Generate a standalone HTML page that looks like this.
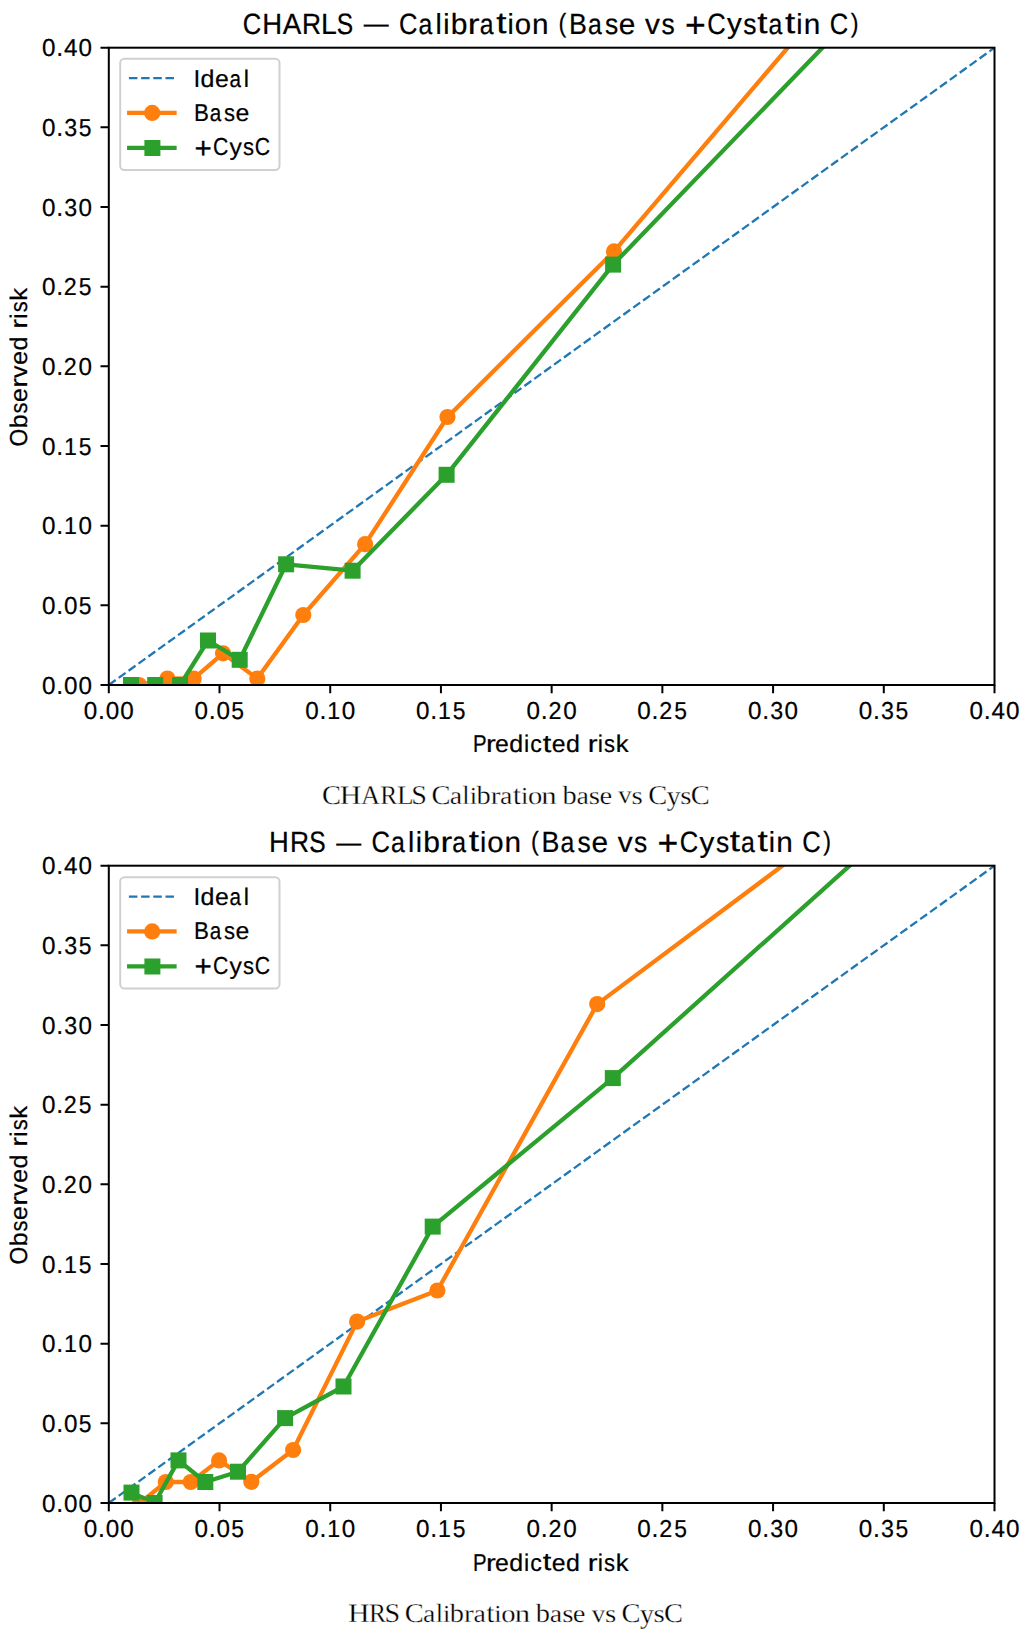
<!DOCTYPE html>
<html><head><meta charset="utf-8"><title>Calibration plots</title>
<style>html,body{margin:0;padding:0;background:#fff}svg{display:block}text{fill:#000;text-rendering:geometricPrecision}</style></head>
<body><svg width="1022" height="1631" viewBox="0 0 1022 1631">
<rect width="1022" height="1631" fill="#fff"/>
<defs><clipPath id="c0"><rect x="108.8" y="47.7" width="885.7" height="637.3"/></clipPath><clipPath id="d0"><rect x="108.8" y="47.7" width="885.7" height="634.9"/></clipPath><clipPath id="c1"><rect x="108.8" y="865.7" width="885.7" height="637.3"/></clipPath><clipPath id="d1"><rect x="108.8" y="865.7" width="885.7" height="634.9"/></clipPath></defs>
<g clip-path="url(#c0)">
<line x1="108.8" y1="685.0" x2="994.5" y2="47.7" stroke="#1f77b4" stroke-width="2.3" stroke-dasharray="8.51 3.68"/>
<polyline clip-path="url(#d0)" points="139.0,685.0 167.4,678.5 193.7,678.6 223.0,653.3 257.3,678.6 303.3,615.0 365.1,544.2 447.5,417.0 614.0,251.4 807.2,24.9" fill="none" stroke="#ff7f0e" stroke-width="4.3" stroke-linejoin="round"/>
<circle cx="139.0" cy="685.0" r="8.10" fill="#ff7f0e"/>
<circle cx="167.4" cy="678.5" r="8.10" fill="#ff7f0e"/>
<circle cx="193.7" cy="678.6" r="8.10" fill="#ff7f0e"/>
<circle cx="223.0" cy="653.3" r="8.10" fill="#ff7f0e"/>
<circle cx="257.3" cy="678.6" r="8.10" fill="#ff7f0e"/>
<circle cx="303.3" cy="615.0" r="8.10" fill="#ff7f0e"/>
<circle cx="365.1" cy="544.2" r="8.10" fill="#ff7f0e"/>
<circle cx="447.5" cy="417.0" r="8.10" fill="#ff7f0e"/>
<circle cx="614.0" cy="251.4" r="8.10" fill="#ff7f0e"/>
<polyline clip-path="url(#d0)" points="131.0,685.0 155.2,685.0 180.1,685.0 208.0,640.5 239.7,659.8 286.1,564.3 352.6,570.7 446.6,474.8 613.1,264.6 843.3,26.1" fill="none" stroke="#2ca02c" stroke-width="4.3" stroke-linejoin="round"/>
<rect x="123.00" y="677.00" width="16.0" height="16.0" fill="#2ca02c"/>
<rect x="147.20" y="677.00" width="16.0" height="16.0" fill="#2ca02c"/>
<rect x="172.10" y="677.00" width="16.0" height="16.0" fill="#2ca02c"/>
<rect x="200.00" y="632.50" width="16.0" height="16.0" fill="#2ca02c"/>
<rect x="231.70" y="651.80" width="16.0" height="16.0" fill="#2ca02c"/>
<rect x="278.10" y="556.30" width="16.0" height="16.0" fill="#2ca02c"/>
<rect x="344.60" y="562.70" width="16.0" height="16.0" fill="#2ca02c"/>
<rect x="438.60" y="466.80" width="16.0" height="16.0" fill="#2ca02c"/>
<rect x="605.10" y="256.60" width="16.0" height="16.0" fill="#2ca02c"/>
</g>
<rect x="108.8" y="47.7" width="885.7" height="637.3" fill="none" stroke="#000" stroke-width="2.0"/>
<path d="M108.80 685.0v8.3M108.8 685.00h-8.3M219.51 685.0v8.3M108.8 605.34h-8.3M330.23 685.0v8.3M108.8 525.67h-8.3M440.94 685.0v8.3M108.8 446.01h-8.3M551.65 685.0v8.3M108.8 366.35h-8.3M662.36 685.0v8.3M108.8 286.69h-8.3M773.08 685.0v8.3M108.8 207.02h-8.3M883.79 685.0v8.3M108.8 127.36h-8.3M994.50 685.0v8.3M108.8 47.70h-8.3" stroke="#000" stroke-width="2.0"/>
<rect x="120.2" y="58.8" width="159.3" height="111.2" rx="4.3" fill="#fff" fill-opacity="0.8" stroke="#d0d0d0" stroke-width="2"/>
<line x1="128.9" y1="78.2" x2="174.5" y2="78.2" stroke="#1f77b4" stroke-width="2.3" stroke-dasharray="8.51 3.68"/>
<line x1="129.2" y1="112.95" x2="174.5" y2="112.95" stroke="#ff7f0e" stroke-width="4.3" stroke-linecap="square"/>
<circle cx="152.2" cy="112.95" r="8.10" fill="#ff7f0e"/>
<line x1="129.2" y1="147.8" x2="174.5" y2="147.8" stroke="#2ca02c" stroke-width="4.3" stroke-linecap="square"/>
<rect x="144.40" y="140.00" width="16.0" height="16.0" fill="#2ca02c"/>
<g clip-path="url(#c1)">
<line x1="108.8" y1="1503.0" x2="994.5" y2="865.7" stroke="#1f77b4" stroke-width="2.3" stroke-dasharray="8.51 3.68"/>
<polyline clip-path="url(#d1)" points="140.0,1503.0 165.8,1482.0 190.8,1482.0 219.1,1460.4 251.3,1481.8 293.1,1450.0 357.1,1321.6 437.4,1290.5 597.2,1004.1 806.5,847.7" fill="none" stroke="#ff7f0e" stroke-width="4.3" stroke-linejoin="round"/>
<circle cx="140.0" cy="1503.0" r="8.10" fill="#ff7f0e"/>
<circle cx="165.8" cy="1482.0" r="8.10" fill="#ff7f0e"/>
<circle cx="190.8" cy="1482.0" r="8.10" fill="#ff7f0e"/>
<circle cx="219.1" cy="1460.4" r="8.10" fill="#ff7f0e"/>
<circle cx="251.3" cy="1481.8" r="8.10" fill="#ff7f0e"/>
<circle cx="293.1" cy="1450.0" r="8.10" fill="#ff7f0e"/>
<circle cx="357.1" cy="1321.6" r="8.10" fill="#ff7f0e"/>
<circle cx="437.4" cy="1290.5" r="8.10" fill="#ff7f0e"/>
<circle cx="597.2" cy="1004.1" r="8.10" fill="#ff7f0e"/>
<polyline clip-path="url(#d1)" points="131.5,1492.6 154.6,1503.0 178.5,1460.4 205.3,1482.0 238.0,1471.7 285.1,1418.1 343.5,1386.5 432.7,1226.6 612.8,1078.1 871.9,845.7" fill="none" stroke="#2ca02c" stroke-width="4.3" stroke-linejoin="round"/>
<rect x="123.50" y="1484.60" width="16.0" height="16.0" fill="#2ca02c"/>
<rect x="146.60" y="1495.00" width="16.0" height="16.0" fill="#2ca02c"/>
<rect x="170.50" y="1452.40" width="16.0" height="16.0" fill="#2ca02c"/>
<rect x="197.30" y="1474.00" width="16.0" height="16.0" fill="#2ca02c"/>
<rect x="230.00" y="1463.70" width="16.0" height="16.0" fill="#2ca02c"/>
<rect x="277.10" y="1410.10" width="16.0" height="16.0" fill="#2ca02c"/>
<rect x="335.50" y="1378.50" width="16.0" height="16.0" fill="#2ca02c"/>
<rect x="424.70" y="1218.60" width="16.0" height="16.0" fill="#2ca02c"/>
<rect x="604.80" y="1070.10" width="16.0" height="16.0" fill="#2ca02c"/>
</g>
<rect x="108.8" y="865.7" width="885.7" height="637.3" fill="none" stroke="#000" stroke-width="2.0"/>
<path d="M108.80 1503.0v8.3M108.8 1503.00h-8.3M219.51 1503.0v8.3M108.8 1423.34h-8.3M330.23 1503.0v8.3M108.8 1343.67h-8.3M440.94 1503.0v8.3M108.8 1264.01h-8.3M551.65 1503.0v8.3M108.8 1184.35h-8.3M662.36 1503.0v8.3M108.8 1104.69h-8.3M773.08 1503.0v8.3M108.8 1025.03h-8.3M883.79 1503.0v8.3M108.8 945.36h-8.3M994.50 1503.0v8.3M108.8 865.70h-8.3" stroke="#000" stroke-width="2.0"/>
<rect x="120.2" y="877.3" width="159.3" height="111.2" rx="4.3" fill="#fff" fill-opacity="0.8" stroke="#d0d0d0" stroke-width="2"/>
<line x1="128.9" y1="896.7" x2="174.5" y2="896.7" stroke="#1f77b4" stroke-width="2.3" stroke-dasharray="8.51 3.68"/>
<line x1="129.2" y1="931.45" x2="174.5" y2="931.45" stroke="#ff7f0e" stroke-width="4.3" stroke-linecap="square"/>
<circle cx="152.2" cy="931.45" r="8.10" fill="#ff7f0e"/>
<line x1="129.2" y1="966.3" x2="174.5" y2="966.3" stroke="#2ca02c" stroke-width="4.3" stroke-linecap="square"/>
<rect x="144.40" y="958.50" width="16.0" height="16.0" fill="#2ca02c"/>
<g font-family="Liberation Sans" font-size="24.37" stroke="#000" stroke-width="0.22" aria-label="0.00"><text transform="matrix(0.9948,0,0,1.0082,83.76,719.09)">0</text><text transform="matrix(1.0212,0,0,1.0946,98.01,719.00)">.</text><text transform="matrix(0.9948,0,0,1.0082,105.71,719.09)">0</text><text transform="matrix(0.9948,0,0,1.0082,120.34,719.09)">0</text></g>
<g font-family="Liberation Sans" font-size="24.37" stroke="#000" stroke-width="0.22" aria-label="0.00"><text transform="matrix(0.9948,0,0,1.0082,41.96,693.79)">0</text><text transform="matrix(1.0212,0,0,1.0946,56.21,693.70)">.</text><text transform="matrix(0.9948,0,0,1.0082,63.90,693.79)">0</text><text transform="matrix(0.9948,0,0,1.0082,78.54,693.79)">0</text></g>
<g font-family="Liberation Sans" font-size="24.37" stroke="#000" stroke-width="0.22" aria-label="0.05"><text transform="matrix(0.9948,0,0,1.0082,194.48,719.09)">0</text><text transform="matrix(1.0212,0,0,1.0946,208.73,719.00)">.</text><text transform="matrix(0.9948,0,0,1.0082,216.42,719.09)">0</text><text transform="matrix(0.9389,0,0,1.0052,231.34,719.09)">5</text></g>
<g font-family="Liberation Sans" font-size="24.37" stroke="#000" stroke-width="0.22" aria-label="0.05"><text transform="matrix(0.9948,0,0,1.0082,41.96,614.12)">0</text><text transform="matrix(1.0212,0,0,1.0946,56.21,614.04)">.</text><text transform="matrix(0.9948,0,0,1.0082,63.90,614.12)">0</text><text transform="matrix(0.9389,0,0,1.0052,78.82,614.12)">5</text></g>
<g font-family="Liberation Sans" font-size="24.37" stroke="#000" stroke-width="0.22" aria-label="0.10"><text transform="matrix(0.9948,0,0,1.0082,305.19,719.09)">0</text><text transform="matrix(1.0212,0,0,1.0946,319.44,719.00)">.</text><text transform="matrix(0.9502,0,0,1.0000,327.33,719.00)">1</text><text transform="matrix(0.9948,0,0,1.0082,341.77,719.09)">0</text></g>
<g font-family="Liberation Sans" font-size="24.37" stroke="#000" stroke-width="0.22" aria-label="0.10"><text transform="matrix(0.9948,0,0,1.0082,41.96,534.46)">0</text><text transform="matrix(1.0212,0,0,1.0946,56.21,534.38)">.</text><text transform="matrix(0.9502,0,0,1.0000,64.10,534.38)">1</text><text transform="matrix(0.9948,0,0,1.0082,78.54,534.46)">0</text></g>
<g font-family="Liberation Sans" font-size="24.37" stroke="#000" stroke-width="0.22" aria-label="0.15"><text transform="matrix(0.9948,0,0,1.0082,415.90,719.09)">0</text><text transform="matrix(1.0212,0,0,1.0946,430.15,719.00)">.</text><text transform="matrix(0.9502,0,0,1.0000,438.04,719.00)">1</text><text transform="matrix(0.9389,0,0,1.0052,452.77,719.09)">5</text></g>
<g font-family="Liberation Sans" font-size="24.37" stroke="#000" stroke-width="0.22" aria-label="0.15"><text transform="matrix(0.9948,0,0,1.0082,41.96,454.80)">0</text><text transform="matrix(1.0212,0,0,1.0946,56.21,454.71)">.</text><text transform="matrix(0.9502,0,0,1.0000,64.10,454.71)">1</text><text transform="matrix(0.9389,0,0,1.0052,78.82,454.80)">5</text></g>
<g font-family="Liberation Sans" font-size="24.37" stroke="#000" stroke-width="0.22" aria-label="0.20"><text transform="matrix(0.9948,0,0,1.0082,526.61,719.09)">0</text><text transform="matrix(1.0212,0,0,1.0946,540.86,719.00)">.</text><text transform="matrix(0.9589,0,0,1.0031,548.50,719.00)">2</text><text transform="matrix(0.9948,0,0,1.0082,563.19,719.09)">0</text></g>
<g font-family="Liberation Sans" font-size="24.37" stroke="#000" stroke-width="0.22" aria-label="0.20"><text transform="matrix(0.9948,0,0,1.0082,41.96,375.14)">0</text><text transform="matrix(1.0212,0,0,1.0946,56.21,375.05)">.</text><text transform="matrix(0.9589,0,0,1.0031,63.84,375.05)">2</text><text transform="matrix(0.9948,0,0,1.0082,78.54,375.14)">0</text></g>
<g font-family="Liberation Sans" font-size="24.37" stroke="#000" stroke-width="0.22" aria-label="0.25"><text transform="matrix(0.9948,0,0,1.0082,637.33,719.09)">0</text><text transform="matrix(1.0212,0,0,1.0946,651.58,719.00)">.</text><text transform="matrix(0.9589,0,0,1.0031,659.21,719.00)">2</text><text transform="matrix(0.9389,0,0,1.0052,674.19,719.09)">5</text></g>
<g font-family="Liberation Sans" font-size="24.37" stroke="#000" stroke-width="0.22" aria-label="0.25"><text transform="matrix(0.9948,0,0,1.0082,41.96,295.47)">0</text><text transform="matrix(1.0212,0,0,1.0946,56.21,295.39)">.</text><text transform="matrix(0.9589,0,0,1.0031,63.84,295.39)">2</text><text transform="matrix(0.9389,0,0,1.0052,78.82,295.47)">5</text></g>
<g font-family="Liberation Sans" font-size="24.37" stroke="#000" stroke-width="0.22" aria-label="0.30"><text transform="matrix(0.9948,0,0,1.0082,748.04,719.09)">0</text><text transform="matrix(1.0212,0,0,1.0946,762.29,719.00)">.</text><text transform="matrix(0.9554,0,0,1.0082,770.28,719.09)">3</text><text transform="matrix(0.9948,0,0,1.0082,784.62,719.09)">0</text></g>
<g font-family="Liberation Sans" font-size="24.37" stroke="#000" stroke-width="0.22" aria-label="0.30"><text transform="matrix(0.9948,0,0,1.0082,41.96,215.81)">0</text><text transform="matrix(1.0212,0,0,1.0946,56.21,215.72)">.</text><text transform="matrix(0.9554,0,0,1.0082,64.20,215.81)">3</text><text transform="matrix(0.9948,0,0,1.0082,78.54,215.81)">0</text></g>
<g font-family="Liberation Sans" font-size="24.37" stroke="#000" stroke-width="0.22" aria-label="0.35"><text transform="matrix(0.9948,0,0,1.0082,858.75,719.09)">0</text><text transform="matrix(1.0212,0,0,1.0946,873.00,719.00)">.</text><text transform="matrix(0.9554,0,0,1.0082,880.99,719.09)">3</text><text transform="matrix(0.9389,0,0,1.0052,895.62,719.09)">5</text></g>
<g font-family="Liberation Sans" font-size="24.37" stroke="#000" stroke-width="0.22" aria-label="0.35"><text transform="matrix(0.9948,0,0,1.0082,41.96,136.15)">0</text><text transform="matrix(1.0212,0,0,1.0946,56.21,136.06)">.</text><text transform="matrix(0.9554,0,0,1.0082,64.20,136.15)">3</text><text transform="matrix(0.9389,0,0,1.0052,78.82,136.15)">5</text></g>
<g font-family="Liberation Sans" font-size="24.37" stroke="#000" stroke-width="0.22" aria-label="0.40"><text transform="matrix(0.9948,0,0,1.0082,969.46,719.09)">0</text><text transform="matrix(1.0212,0,0,1.0946,983.71,719.00)">.</text><text transform="matrix(0.9949,0,0,1.0000,991.41,719.00)">4</text><text transform="matrix(0.9948,0,0,1.0082,1006.04,719.09)">0</text></g>
<g font-family="Liberation Sans" font-size="24.37" stroke="#000" stroke-width="0.22" aria-label="0.40"><text transform="matrix(0.9948,0,0,1.0082,41.96,56.49)">0</text><text transform="matrix(1.0212,0,0,1.0946,56.21,56.40)">.</text><text transform="matrix(0.9949,0,0,1.0000,63.90,56.40)">4</text><text transform="matrix(0.9948,0,0,1.0082,78.54,56.49)">0</text></g>
<g font-family="Liberation Sans" font-size="24.37" stroke="#000" stroke-width="0.22" aria-label="0.00"><text transform="matrix(0.9948,0,0,1.0082,83.76,1537.09)">0</text><text transform="matrix(1.0212,0,0,1.0946,98.01,1537.00)">.</text><text transform="matrix(0.9948,0,0,1.0082,105.71,1537.09)">0</text><text transform="matrix(0.9948,0,0,1.0082,120.34,1537.09)">0</text></g>
<g font-family="Liberation Sans" font-size="24.37" stroke="#000" stroke-width="0.22" aria-label="0.00"><text transform="matrix(0.9948,0,0,1.0082,41.96,1511.79)">0</text><text transform="matrix(1.0212,0,0,1.0946,56.21,1511.70)">.</text><text transform="matrix(0.9948,0,0,1.0082,63.90,1511.79)">0</text><text transform="matrix(0.9948,0,0,1.0082,78.54,1511.79)">0</text></g>
<g font-family="Liberation Sans" font-size="24.37" stroke="#000" stroke-width="0.22" aria-label="0.05"><text transform="matrix(0.9948,0,0,1.0082,194.48,1537.09)">0</text><text transform="matrix(1.0212,0,0,1.0946,208.73,1537.00)">.</text><text transform="matrix(0.9948,0,0,1.0082,216.42,1537.09)">0</text><text transform="matrix(0.9389,0,0,1.0052,231.34,1537.09)">5</text></g>
<g font-family="Liberation Sans" font-size="24.37" stroke="#000" stroke-width="0.22" aria-label="0.05"><text transform="matrix(0.9948,0,0,1.0082,41.96,1432.12)">0</text><text transform="matrix(1.0212,0,0,1.0946,56.21,1432.04)">.</text><text transform="matrix(0.9948,0,0,1.0082,63.90,1432.12)">0</text><text transform="matrix(0.9389,0,0,1.0052,78.82,1432.12)">5</text></g>
<g font-family="Liberation Sans" font-size="24.37" stroke="#000" stroke-width="0.22" aria-label="0.10"><text transform="matrix(0.9948,0,0,1.0082,305.19,1537.09)">0</text><text transform="matrix(1.0212,0,0,1.0946,319.44,1537.00)">.</text><text transform="matrix(0.9502,0,0,1.0000,327.33,1537.00)">1</text><text transform="matrix(0.9948,0,0,1.0082,341.77,1537.09)">0</text></g>
<g font-family="Liberation Sans" font-size="24.37" stroke="#000" stroke-width="0.22" aria-label="0.10"><text transform="matrix(0.9948,0,0,1.0082,41.96,1352.46)">0</text><text transform="matrix(1.0212,0,0,1.0946,56.21,1352.38)">.</text><text transform="matrix(0.9502,0,0,1.0000,64.10,1352.38)">1</text><text transform="matrix(0.9948,0,0,1.0082,78.54,1352.46)">0</text></g>
<g font-family="Liberation Sans" font-size="24.37" stroke="#000" stroke-width="0.22" aria-label="0.15"><text transform="matrix(0.9948,0,0,1.0082,415.90,1537.09)">0</text><text transform="matrix(1.0212,0,0,1.0946,430.15,1537.00)">.</text><text transform="matrix(0.9502,0,0,1.0000,438.04,1537.00)">1</text><text transform="matrix(0.9389,0,0,1.0052,452.77,1537.09)">5</text></g>
<g font-family="Liberation Sans" font-size="24.37" stroke="#000" stroke-width="0.22" aria-label="0.15"><text transform="matrix(0.9948,0,0,1.0082,41.96,1272.80)">0</text><text transform="matrix(1.0212,0,0,1.0946,56.21,1272.71)">.</text><text transform="matrix(0.9502,0,0,1.0000,64.10,1272.71)">1</text><text transform="matrix(0.9389,0,0,1.0052,78.82,1272.80)">5</text></g>
<g font-family="Liberation Sans" font-size="24.37" stroke="#000" stroke-width="0.22" aria-label="0.20"><text transform="matrix(0.9948,0,0,1.0082,526.61,1537.09)">0</text><text transform="matrix(1.0212,0,0,1.0946,540.86,1537.00)">.</text><text transform="matrix(0.9589,0,0,1.0031,548.50,1537.00)">2</text><text transform="matrix(0.9948,0,0,1.0082,563.19,1537.09)">0</text></g>
<g font-family="Liberation Sans" font-size="24.37" stroke="#000" stroke-width="0.22" aria-label="0.20"><text transform="matrix(0.9948,0,0,1.0082,41.96,1193.14)">0</text><text transform="matrix(1.0212,0,0,1.0946,56.21,1193.05)">.</text><text transform="matrix(0.9589,0,0,1.0031,63.84,1193.05)">2</text><text transform="matrix(0.9948,0,0,1.0082,78.54,1193.14)">0</text></g>
<g font-family="Liberation Sans" font-size="24.37" stroke="#000" stroke-width="0.22" aria-label="0.25"><text transform="matrix(0.9948,0,0,1.0082,637.33,1537.09)">0</text><text transform="matrix(1.0212,0,0,1.0946,651.58,1537.00)">.</text><text transform="matrix(0.9589,0,0,1.0031,659.21,1537.00)">2</text><text transform="matrix(0.9389,0,0,1.0052,674.19,1537.09)">5</text></g>
<g font-family="Liberation Sans" font-size="24.37" stroke="#000" stroke-width="0.22" aria-label="0.25"><text transform="matrix(0.9948,0,0,1.0082,41.96,1113.47)">0</text><text transform="matrix(1.0212,0,0,1.0946,56.21,1113.39)">.</text><text transform="matrix(0.9589,0,0,1.0031,63.84,1113.39)">2</text><text transform="matrix(0.9389,0,0,1.0052,78.82,1113.47)">5</text></g>
<g font-family="Liberation Sans" font-size="24.37" stroke="#000" stroke-width="0.22" aria-label="0.30"><text transform="matrix(0.9948,0,0,1.0082,748.04,1537.09)">0</text><text transform="matrix(1.0212,0,0,1.0946,762.29,1537.00)">.</text><text transform="matrix(0.9554,0,0,1.0082,770.28,1537.09)">3</text><text transform="matrix(0.9948,0,0,1.0082,784.62,1537.09)">0</text></g>
<g font-family="Liberation Sans" font-size="24.37" stroke="#000" stroke-width="0.22" aria-label="0.30"><text transform="matrix(0.9948,0,0,1.0082,41.96,1033.81)">0</text><text transform="matrix(1.0212,0,0,1.0946,56.21,1033.73)">.</text><text transform="matrix(0.9554,0,0,1.0082,64.20,1033.81)">3</text><text transform="matrix(0.9948,0,0,1.0082,78.54,1033.81)">0</text></g>
<g font-family="Liberation Sans" font-size="24.37" stroke="#000" stroke-width="0.22" aria-label="0.35"><text transform="matrix(0.9948,0,0,1.0082,858.75,1537.09)">0</text><text transform="matrix(1.0212,0,0,1.0946,873.00,1537.00)">.</text><text transform="matrix(0.9554,0,0,1.0082,880.99,1537.09)">3</text><text transform="matrix(0.9389,0,0,1.0052,895.62,1537.09)">5</text></g>
<g font-family="Liberation Sans" font-size="24.37" stroke="#000" stroke-width="0.22" aria-label="0.35"><text transform="matrix(0.9948,0,0,1.0082,41.96,954.15)">0</text><text transform="matrix(1.0212,0,0,1.0946,56.21,954.06)">.</text><text transform="matrix(0.9554,0,0,1.0082,64.20,954.15)">3</text><text transform="matrix(0.9389,0,0,1.0052,78.82,954.15)">5</text></g>
<g font-family="Liberation Sans" font-size="24.37" stroke="#000" stroke-width="0.22" aria-label="0.40"><text transform="matrix(0.9948,0,0,1.0082,969.46,1537.09)">0</text><text transform="matrix(1.0212,0,0,1.0946,983.71,1537.00)">.</text><text transform="matrix(0.9949,0,0,1.0000,991.41,1537.00)">4</text><text transform="matrix(0.9948,0,0,1.0082,1006.04,1537.09)">0</text></g>
<g font-family="Liberation Sans" font-size="24.37" stroke="#000" stroke-width="0.22" aria-label="0.40"><text transform="matrix(0.9948,0,0,1.0082,41.96,874.49)">0</text><text transform="matrix(1.0212,0,0,1.0946,56.21,874.40)">.</text><text transform="matrix(0.9949,0,0,1.0000,63.90,874.40)">4</text><text transform="matrix(0.9948,0,0,1.0082,78.54,874.49)">0</text></g>
<g font-family="Liberation Sans" font-size="29.25" stroke="#000" stroke-width="0.22" aria-label="CHARLS — Calibration (Base vs +Cystatin C)"><text transform="matrix(0.8761,0,0,1.0082,242.80,33.70)">C</text><text transform="matrix(0.9388,0,0,1.0000,262.28,33.60)">H</text><text transform="matrix(0.9507,0,0,1.0000,282.74,33.60)">A</text><text transform="matrix(0.9026,0,0,1.0000,302.00,33.60)">R</text><text transform="matrix(0.9709,0,0,1.0000,321.01,33.60)">L</text><text transform="matrix(0.8413,0,0,1.0082,336.71,33.70)">S</text><text transform="matrix(0.8516,0,0,0.9920,363.65,33.40)">—</text><text transform="matrix(0.8761,0,0,1.0082,398.92,33.70)">C</text><text transform="matrix(0.8486,0,0,0.9892,418.55,33.71)">a</text><text transform="matrix(0.9647,0,0,0.9895,435.56,33.60)">l</text><text transform="matrix(0.9647,0,0,0.9895,443.24,33.60)">i</text><text transform="matrix(1.0267,0,0,0.9946,450.77,33.71)">b</text><text transform="matrix(1.2092,0,0,0.9823,467.87,33.60)">r</text><text transform="matrix(0.8486,0,0,0.9892,479.67,33.71)">a</text><text transform="matrix(1.2613,0,0,1.0128,496.16,33.37)">t</text><text transform="matrix(0.9647,0,0,0.9895,507.51,33.60)">i</text><text transform="matrix(1.0033,0,0,0.9892,514.76,33.71)">o</text><text transform="matrix(1.0175,0,0,0.9823,531.88,33.60)">n</text><text transform="matrix(0.7977,0,0,0.9022,558.54,31.78)">(</text><text transform="matrix(0.9169,0,0,1.0000,568.90,33.60)">B</text><text transform="matrix(0.8486,0,0,0.9892,587.92,33.71)">a</text><text transform="matrix(0.9046,0,0,0.9918,604.99,33.71)">s</text><text transform="matrix(1.0194,0,0,0.9892,618.87,33.71)">e</text><text transform="matrix(1.0185,0,0,0.9769,645.09,33.60)">v</text><text transform="matrix(0.9046,0,0,0.9918,661.46,33.71)">s</text><text transform="matrix(1.2160,0,0,1.2093,685.04,36.71)">+</text><text transform="matrix(0.8761,0,0,1.0082,707.23,33.70)">C</text><text transform="matrix(1.0135,0,0,0.9682,727.00,33.47)">y</text><text transform="matrix(0.9046,0,0,0.9918,743.34,33.71)">s</text><text transform="matrix(1.2613,0,0,1.0128,757.15,33.37)">t</text><text transform="matrix(0.8486,0,0,0.9892,768.39,33.71)">a</text><text transform="matrix(1.2613,0,0,1.0128,784.88,33.37)">t</text><text transform="matrix(0.9647,0,0,0.9895,796.23,33.60)">i</text><text transform="matrix(1.0175,0,0,0.9823,803.72,33.60)">n</text><text transform="matrix(0.8761,0,0,1.0082,829.70,33.70)">C</text><text transform="matrix(0.7977,0,0,0.9022,850.80,31.78)">)</text></g>
<g font-family="Liberation Sans" font-size="29.25" stroke="#000" stroke-width="0.22" aria-label="HRS — Calibration (Base vs +Cystatin C)"><text transform="matrix(0.9388,0,0,1.0000,269.10,851.70)">H</text><text transform="matrix(0.9026,0,0,1.0000,289.94,851.70)">R</text><text transform="matrix(0.8413,0,0,1.0082,309.27,851.80)">S</text><text transform="matrix(0.8516,0,0,0.9920,336.21,851.50)">—</text><text transform="matrix(0.8761,0,0,1.0082,371.49,851.80)">C</text><text transform="matrix(0.8486,0,0,0.9892,391.11,851.81)">a</text><text transform="matrix(0.9647,0,0,0.9895,408.12,851.70)">l</text><text transform="matrix(0.9647,0,0,0.9895,415.80,851.70)">i</text><text transform="matrix(1.0267,0,0,0.9946,423.33,851.81)">b</text><text transform="matrix(1.2092,0,0,0.9823,440.44,851.70)">r</text><text transform="matrix(0.8486,0,0,0.9892,452.23,851.81)">a</text><text transform="matrix(1.2613,0,0,1.0128,468.72,851.47)">t</text><text transform="matrix(0.9647,0,0,0.9895,480.07,851.70)">i</text><text transform="matrix(1.0033,0,0,0.9892,487.32,851.81)">o</text><text transform="matrix(1.0175,0,0,0.9823,504.45,851.70)">n</text><text transform="matrix(0.7977,0,0,0.9022,531.11,849.88)">(</text><text transform="matrix(0.9169,0,0,1.0000,541.46,851.70)">B</text><text transform="matrix(0.8486,0,0,0.9892,560.49,851.81)">a</text><text transform="matrix(0.9046,0,0,0.9918,577.56,851.81)">s</text><text transform="matrix(1.0194,0,0,0.9892,591.43,851.81)">e</text><text transform="matrix(1.0185,0,0,0.9769,617.65,851.70)">v</text><text transform="matrix(0.9046,0,0,0.9918,634.02,851.81)">s</text><text transform="matrix(1.2160,0,0,1.2093,657.60,854.81)">+</text><text transform="matrix(0.8761,0,0,1.0082,679.79,851.80)">C</text><text transform="matrix(1.0135,0,0,0.9682,699.56,851.57)">y</text><text transform="matrix(0.9046,0,0,0.9918,715.91,851.81)">s</text><text transform="matrix(1.2613,0,0,1.0128,729.71,851.47)">t</text><text transform="matrix(0.8486,0,0,0.9892,740.95,851.81)">a</text><text transform="matrix(1.2613,0,0,1.0128,757.44,851.47)">t</text><text transform="matrix(0.9647,0,0,0.9895,768.80,851.70)">i</text><text transform="matrix(1.0175,0,0,0.9823,776.28,851.70)">n</text><text transform="matrix(0.8761,0,0,1.0082,802.27,851.80)">C</text><text transform="matrix(0.7977,0,0,0.9022,823.36,849.88)">)</text></g>
<g font-family="Liberation Sans" font-size="24.37" stroke="#000" stroke-width="0.22" aria-label="Predicted risk"><text transform="matrix(0.8346,0,0,1.0000,472.95,751.90)">P</text><text transform="matrix(1.2092,0,0,0.9823,485.96,751.90)">r</text><text transform="matrix(1.0194,0,0,0.9892,494.99,751.99)">e</text><text transform="matrix(1.0257,0,0,0.9946,509.15,751.99)">d</text><text transform="matrix(0.9647,0,0,0.9895,524.12,751.90)">i</text><text transform="matrix(0.9469,0,0,0.9892,530.21,751.99)">c</text><text transform="matrix(1.2613,0,0,1.0128,542.71,751.71)">t</text><text transform="matrix(1.0194,0,0,0.9892,551.79,751.99)">e</text><text transform="matrix(1.0257,0,0,0.9946,565.95,751.99)">d</text><text transform="matrix(1.2092,0,0,0.9823,587.77,751.90)">r</text><text transform="matrix(0.9647,0,0,0.9895,597.69,751.90)">i</text><text transform="matrix(0.9046,0,0,0.9918,604.12,751.99)">s</text><text transform="matrix(1.0552,0,0,0.9895,615.83,751.90)">k</text></g>
<g font-family="Liberation Sans" font-size="24.37" stroke="#000" stroke-width="0.22" aria-label="Observed risk" transform="translate(26.50,366.65) rotate(-90)"><text transform="matrix(0.9329,0,0,1.0082,-79.95,0.09)">O</text><text transform="matrix(1.0267,0,0,0.9946,-61.59,0.09)">b</text><text transform="matrix(0.9046,0,0,0.9918,-46.83,0.09)">s</text><text transform="matrix(1.0194,0,0,0.9892,-35.27,0.09)">e</text><text transform="matrix(1.2092,0,0,0.9823,-21.20,0.00)">r</text><text transform="matrix(1.0185,0,0,0.9769,-11.28,0.00)">v</text><text transform="matrix(1.0194,0,0,0.9892,1.95,0.09)">e</text><text transform="matrix(1.0257,0,0,0.9946,16.10,0.09)">d</text><text transform="matrix(1.2092,0,0,0.9823,37.93,0.00)">r</text><text transform="matrix(0.9647,0,0,0.9895,47.85,0.00)">i</text><text transform="matrix(0.9046,0,0,0.9918,54.28,0.09)">s</text><text transform="matrix(1.0552,0,0,0.9895,65.98,0.00)">k</text></g>
<g font-family="Liberation Sans" font-size="24.37" stroke="#000" stroke-width="0.22" aria-label="Ideal"><text transform="matrix(0.9981,0,0,1.0000,193.51,86.50)">I</text><text transform="matrix(1.0257,0,0,0.9946,200.50,86.59)">d</text><text transform="matrix(1.0194,0,0,0.9892,215.10,86.59)">e</text><text transform="matrix(0.8486,0,0,0.9892,229.54,86.59)">a</text><text transform="matrix(0.9647,0,0,0.9895,243.71,86.50)">l</text></g>
<g font-family="Liberation Sans" font-size="24.37" stroke="#000" stroke-width="0.22" aria-label="Base"><text transform="matrix(0.9169,0,0,1.0000,193.92,120.90)">B</text><text transform="matrix(0.8486,0,0,0.9892,209.78,120.99)">a</text><text transform="matrix(0.9046,0,0,0.9918,224.01,120.99)">s</text><text transform="matrix(1.0194,0,0,0.9892,235.57,120.99)">e</text></g>
<g font-family="Liberation Sans" font-size="24.37" stroke="#000" stroke-width="0.22" aria-label="+CysC"><text transform="matrix(1.2160,0,0,1.2093,194.49,157.99)">+</text><text transform="matrix(0.8761,0,0,1.0082,212.98,155.49)">C</text><text transform="matrix(1.0135,0,0,0.9682,229.46,155.29)">y</text><text transform="matrix(0.9046,0,0,0.9918,243.08,155.49)">s</text><text transform="matrix(0.8761,0,0,1.0082,254.63,155.49)">C</text></g>
<g font-family="Liberation Sans" font-size="24.37" stroke="#000" stroke-width="0.22" aria-label="Predicted risk"><text transform="matrix(0.8346,0,0,1.0000,472.95,1570.60)">P</text><text transform="matrix(1.2092,0,0,0.9823,485.96,1570.60)">r</text><text transform="matrix(1.0194,0,0,0.9892,494.99,1570.69)">e</text><text transform="matrix(1.0257,0,0,0.9946,509.15,1570.69)">d</text><text transform="matrix(0.9647,0,0,0.9895,524.12,1570.60)">i</text><text transform="matrix(0.9469,0,0,0.9892,530.21,1570.69)">c</text><text transform="matrix(1.2613,0,0,1.0128,542.71,1570.41)">t</text><text transform="matrix(1.0194,0,0,0.9892,551.79,1570.69)">e</text><text transform="matrix(1.0257,0,0,0.9946,565.95,1570.69)">d</text><text transform="matrix(1.2092,0,0,0.9823,587.77,1570.60)">r</text><text transform="matrix(0.9647,0,0,0.9895,597.69,1570.60)">i</text><text transform="matrix(0.9046,0,0,0.9918,604.12,1570.69)">s</text><text transform="matrix(1.0552,0,0,0.9895,615.83,1570.60)">k</text></g>
<g font-family="Liberation Sans" font-size="24.37" stroke="#000" stroke-width="0.22" aria-label="Observed risk" transform="translate(26.50,1184.65) rotate(-90)"><text transform="matrix(0.9329,0,0,1.0082,-79.95,0.09)">O</text><text transform="matrix(1.0267,0,0,0.9946,-61.59,0.09)">b</text><text transform="matrix(0.9046,0,0,0.9918,-46.83,0.09)">s</text><text transform="matrix(1.0194,0,0,0.9892,-35.27,0.09)">e</text><text transform="matrix(1.2092,0,0,0.9823,-21.20,0.00)">r</text><text transform="matrix(1.0185,0,0,0.9769,-11.28,0.00)">v</text><text transform="matrix(1.0194,0,0,0.9892,1.95,0.09)">e</text><text transform="matrix(1.0257,0,0,0.9946,16.10,0.09)">d</text><text transform="matrix(1.2092,0,0,0.9823,37.93,0.00)">r</text><text transform="matrix(0.9647,0,0,0.9895,47.85,0.00)">i</text><text transform="matrix(0.9046,0,0,0.9918,54.28,0.09)">s</text><text transform="matrix(1.0552,0,0,0.9895,65.98,0.00)">k</text></g>
<g font-family="Liberation Sans" font-size="24.37" stroke="#000" stroke-width="0.22" aria-label="Ideal"><text transform="matrix(0.9981,0,0,1.0000,193.51,905.00)">I</text><text transform="matrix(1.0257,0,0,0.9946,200.50,905.09)">d</text><text transform="matrix(1.0194,0,0,0.9892,215.10,905.09)">e</text><text transform="matrix(0.8486,0,0,0.9892,229.54,905.09)">a</text><text transform="matrix(0.9647,0,0,0.9895,243.71,905.00)">l</text></g>
<g font-family="Liberation Sans" font-size="24.37" stroke="#000" stroke-width="0.22" aria-label="Base"><text transform="matrix(0.9169,0,0,1.0000,193.92,939.40)">B</text><text transform="matrix(0.8486,0,0,0.9892,209.78,939.49)">a</text><text transform="matrix(0.9046,0,0,0.9918,224.01,939.49)">s</text><text transform="matrix(1.0194,0,0,0.9892,235.57,939.49)">e</text></g>
<g font-family="Liberation Sans" font-size="24.37" stroke="#000" stroke-width="0.22" aria-label="+CysC"><text transform="matrix(1.2160,0,0,1.2093,194.49,976.49)">+</text><text transform="matrix(0.8761,0,0,1.0082,212.98,973.99)">C</text><text transform="matrix(1.0135,0,0,0.9682,229.46,973.79)">y</text><text transform="matrix(0.9046,0,0,0.9918,243.08,973.99)">s</text><text transform="matrix(0.8761,0,0,1.0082,254.63,973.99)">C</text></g>
<g font-family="Liberation Serif" font-size="26.53" stroke="#fff" stroke-width="0.3" aria-label="CHARLS Calibration base vs CysC"><text transform="matrix(1.0742,0,0,1.0267,321.88,803.74)">C</text><text transform="matrix(1.1228,0,0,1.0043,339.74,803.58)">H</text><text transform="matrix(0.9944,0,0,1.0076,361.04,803.58)">A</text><text transform="matrix(0.9615,0,0,1.0043,380.27,803.58)">R</text><text transform="matrix(1.0224,0,0,1.0043,396.99,803.58)">L</text><text transform="matrix(1.0608,0,0,1.0267,411.28,803.74)">S</text><text transform="matrix(1.0742,0,0,1.0267,431.39,803.74)">C</text><text transform="matrix(1.0516,0,0,0.9502,449.63,803.56)">a</text><text transform="matrix(0.9948,0,0,0.9942,462.35,803.58)">l</text><text transform="matrix(0.9948,0,0,0.9218,469.63,803.58)">i</text><text transform="matrix(1.0714,0,0,0.9925,476.49,803.54)">b</text><text transform="matrix(1.0980,0,0,0.9478,490.69,803.58)">r</text><text transform="matrix(1.0516,0,0,0.9502,500.10,803.56)">a</text><text transform="matrix(1.0718,0,0,1.0458,513.11,803.53)">t</text><text transform="matrix(0.9948,0,0,0.9218,520.99,803.58)">i</text><text transform="matrix(1.0761,0,0,0.9620,527.93,803.75)">o</text><text transform="matrix(1.1594,0,0,0.9478,541.37,803.58)">n</text><text transform="matrix(1.0714,0,0,0.9925,562.43,803.54)">b</text><text transform="matrix(1.0516,0,0,0.9502,576.51,803.56)">a</text><text transform="matrix(1.0948,0,0,0.9620,588.80,803.75)">s</text><text transform="matrix(1.0789,0,0,0.9620,599.41,803.75)">e</text><text transform="matrix(1.0087,0,0,0.9407,618.33,803.43)">v</text><text transform="matrix(1.0948,0,0,0.9620,631.54,803.75)">s</text><text transform="matrix(1.0742,0,0,1.0267,648.28,803.74)">C</text><text transform="matrix(1.0403,0,0,1.0404,666.66,804.65)">y</text><text transform="matrix(1.0948,0,0,0.9620,680.21,803.75)">s</text><text transform="matrix(1.0742,0,0,1.0267,690.67,803.74)">C</text></g>
<g font-family="Liberation Serif" font-size="26.53" stroke="#fff" stroke-width="0.3" aria-label="HRS Calibration base vs CysC"><text transform="matrix(1.1228,0,0,1.0043,347.94,1621.78)">H</text><text transform="matrix(0.9615,0,0,1.0043,368.95,1621.78)">R</text><text transform="matrix(1.0608,0,0,1.0267,384.62,1621.94)">S</text><text transform="matrix(1.0742,0,0,1.0267,404.73,1621.94)">C</text><text transform="matrix(1.0516,0,0,0.9502,422.97,1621.76)">a</text><text transform="matrix(0.9948,0,0,0.9942,435.69,1621.78)">l</text><text transform="matrix(0.9948,0,0,0.9218,442.97,1621.78)">i</text><text transform="matrix(1.0714,0,0,0.9925,449.83,1621.74)">b</text><text transform="matrix(1.0980,0,0,0.9478,464.03,1621.78)">r</text><text transform="matrix(1.0516,0,0,0.9502,473.44,1621.76)">a</text><text transform="matrix(1.0718,0,0,1.0458,486.45,1621.73)">t</text><text transform="matrix(0.9948,0,0,0.9218,494.33,1621.78)">i</text><text transform="matrix(1.0761,0,0,0.9620,501.27,1621.95)">o</text><text transform="matrix(1.1594,0,0,0.9478,514.71,1621.78)">n</text><text transform="matrix(1.0714,0,0,0.9925,535.77,1621.74)">b</text><text transform="matrix(1.0516,0,0,0.9502,549.85,1621.76)">a</text><text transform="matrix(1.0948,0,0,0.9620,562.14,1621.95)">s</text><text transform="matrix(1.0789,0,0,0.9620,572.75,1621.95)">e</text><text transform="matrix(1.0087,0,0,0.9407,591.67,1621.63)">v</text><text transform="matrix(1.0948,0,0,0.9620,604.88,1621.95)">s</text><text transform="matrix(1.0742,0,0,1.0267,621.62,1621.94)">C</text><text transform="matrix(1.0403,0,0,1.0404,640.00,1622.85)">y</text><text transform="matrix(1.0948,0,0,0.9620,653.55,1621.95)">s</text><text transform="matrix(1.0742,0,0,1.0267,664.02,1621.94)">C</text></g>
</svg></body></html>
